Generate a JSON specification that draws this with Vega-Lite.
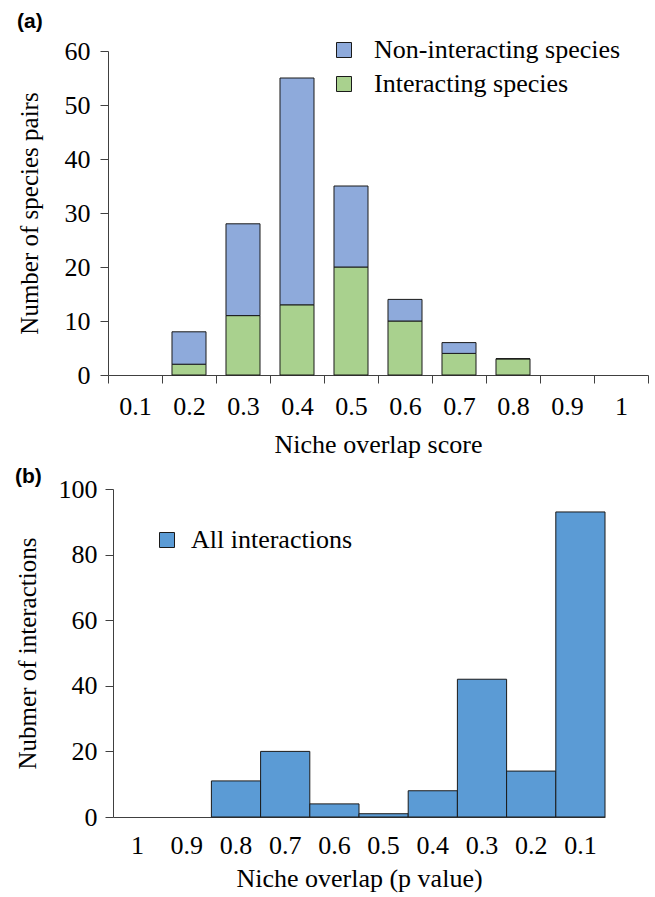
{
  "$schema": "https://vega.github.io/schema/vega-lite/v6.json",
  "padding": {"left": 15, "top": 11, "right": 5, "bottom": 5},
  "background": "white",
  "config": {
    "view": {"stroke": null},
    "font": "Liberation Serif",
    "style": {"guide-label": {"font": "Liberation Serif", "fill": "black"}, "guide-title": {"font": "Liberation Serif", "fill": "black"}},
    "axis": {"labelFont": "Liberation Serif", "titleFont": "Liberation Serif", "labelColor": "black", "titleColor": "black", "titleFontWeight": "normal", "domainColor": "#404040", "tickColor": "#404040", "grid": false},
    "legend": {"labelFont": "Liberation Serif", "labelColor": "black", "labelLimit": 0},
    "title": {"font": "Liberation Sans", "fontWeight": "bold", "fontSize": 21, "anchor": "start", "frame": "bounds", "color": "black"},
    "concat": {"spacing": 8}
  },
  "datasets": {
    "scores": [
      {"score": "0.2", "type": "Interacting species", "count": 2},
      {"score": "0.2", "type": "Non-interacting species", "count": 6},
      {"score": "0.3", "type": "Interacting species", "count": 11},
      {"score": "0.3", "type": "Non-interacting species", "count": 17},
      {"score": "0.4", "type": "Interacting species", "count": 13},
      {"score": "0.4", "type": "Non-interacting species", "count": 42},
      {"score": "0.5", "type": "Interacting species", "count": 20},
      {"score": "0.5", "type": "Non-interacting species", "count": 15},
      {"score": "0.6", "type": "Interacting species", "count": 10},
      {"score": "0.6", "type": "Non-interacting species", "count": 4},
      {"score": "0.7", "type": "Interacting species", "count": 4},
      {"score": "0.7", "type": "Non-interacting species", "count": 2},
      {"score": "0.8", "type": "Interacting species", "count": 3},
      {"score": "0.8", "type": "Non-interacting species", "count": 0}
    ],
    "pvalues": [
      {"p": "0.8", "series": "All interactions", "count": 11},
      {"p": "0.7", "series": "All interactions", "count": 20},
      {"p": "0.6", "series": "All interactions", "count": 4},
      {"p": "0.5", "series": "All interactions", "count": 1},
      {"p": "0.4", "series": "All interactions", "count": 8},
      {"p": "0.3", "series": "All interactions", "count": 42},
      {"p": "0.2", "series": "All interactions", "count": 14},
      {"p": "0.1", "series": "All interactions", "count": 93}
    ]
  },
  "resolve": {"scale": {"color": "independent"}, "legend": {"color": "independent"}},
  "vconcat": [
    {
      "title": {"text": "(a)", "offset": 5, "dx": 0},
      "width": 540,
      "height": 324,
      "data": {"name": "scores"},
      "mark": {"type": "bar", "width": {"band": 0.63}, "stroke": "#1a1a1a", "strokeWidth": 1},
      "encoding": {
        "x": {
          "field": "score", "type": "nominal", "sort": null,
          "scale": {"domain": ["0.1", "0.2", "0.3", "0.4", "0.5", "0.6", "0.7", "0.8", "0.9", "1"], "paddingInner": 0, "paddingOuter": 0},
          "axis": {"title": "Niche overlap score", "labelAngle": 0, "tickBand": "extent", "tickSize": 8, "labelPadding": 10, "titlePadding": 12, "labelFont": "Liberation Serif", "titleFont": "Liberation Serif", "labelFontSize": 26, "titleFontSize": 26}
        },
        "y": {
          "field": "count", "type": "quantitative", "stack": "zero",
          "scale": {"domain": [0, 60], "nice": false},
          "axis": {"title": "Number of species pairs", "values": [0, 10, 20, 30, 40, 50, 60], "tickSize": 8, "labelPadding": 10, "titlePadding": 22, "labelFont": "Liberation Serif", "titleFont": "Liberation Serif", "labelFontSize": 26, "titleFontSize": 25}
        },
        "color": {
          "field": "type", "type": "nominal",
          "scale": {"domain": ["Non-interacting species", "Interacting species"], "range": ["#8EAADB", "#A9D18E"]},
          "legend": {"title": null, "orient": "none", "legendX": 223, "legendY": -14, "symbolType": "square", "symbolSize": 225, "symbolStrokeColor": "#1a1a1a", "symbolStrokeWidth": 1, "labelOffset": 17, "rowPadding": 8, "padding": 0, "labelFont": "Liberation Serif", "labelFontSize": 26, "labelLimit": 0}
        },
        "order": {"field": "type", "sort": "ascending"}
      }
    },
    {
      "title": {"text": "(b)", "offset": -10.5, "dx": 0},
      "width": 497,
      "height": 328,
      "data": {"name": "pvalues"},
      "mark": {"type": "bar", "stroke": "#1a1a1a", "strokeWidth": 1},
      "encoding": {
        "x": {
          "field": "p", "type": "nominal", "sort": null,
          "scale": {"domain": ["1", "0.9", "0.8", "0.7", "0.6", "0.5", "0.4", "0.3", "0.2", "0.1"], "paddingInner": 0, "paddingOuter": 0, "rangeMin": 5},
          "axis": {"title": "Niche overlap (p value)", "labelAngle": 0, "ticks": false, "tickSize": 0, "labelPadding": 15, "titlePadding": 7, "labelFont": "Liberation Serif", "titleFont": "Liberation Serif", "labelFontSize": 26, "titleFontSize": 26}
        },
        "y": {
          "field": "count", "type": "quantitative",
          "scale": {"domain": [0, 100], "nice": false},
          "axis": {"title": "Nubmer of interactions", "values": [0, 20, 40, 60, 80, 100], "offset": -5, "tickSize": 8, "labelPadding": 8, "titlePadding": 18, "labelFont": "Liberation Serif", "titleFont": "Liberation Serif", "labelFontSize": 26, "titleFontSize": 25}
        },
        "color": {
          "field": "series", "type": "nominal",
          "scale": {"domain": ["All interactions"], "range": ["#5B9BD5"]},
          "legend": {"title": null, "orient": "none", "legendX": 46, "legendY": 38, "symbolType": "square", "symbolSize": 225, "symbolStrokeColor": "#1a1a1a", "symbolStrokeWidth": 1, "labelOffset": 11, "padding": 0, "labelFont": "Liberation Serif", "labelFontSize": 26, "labelLimit": 0}
        }
      }
    }
  ]
}
